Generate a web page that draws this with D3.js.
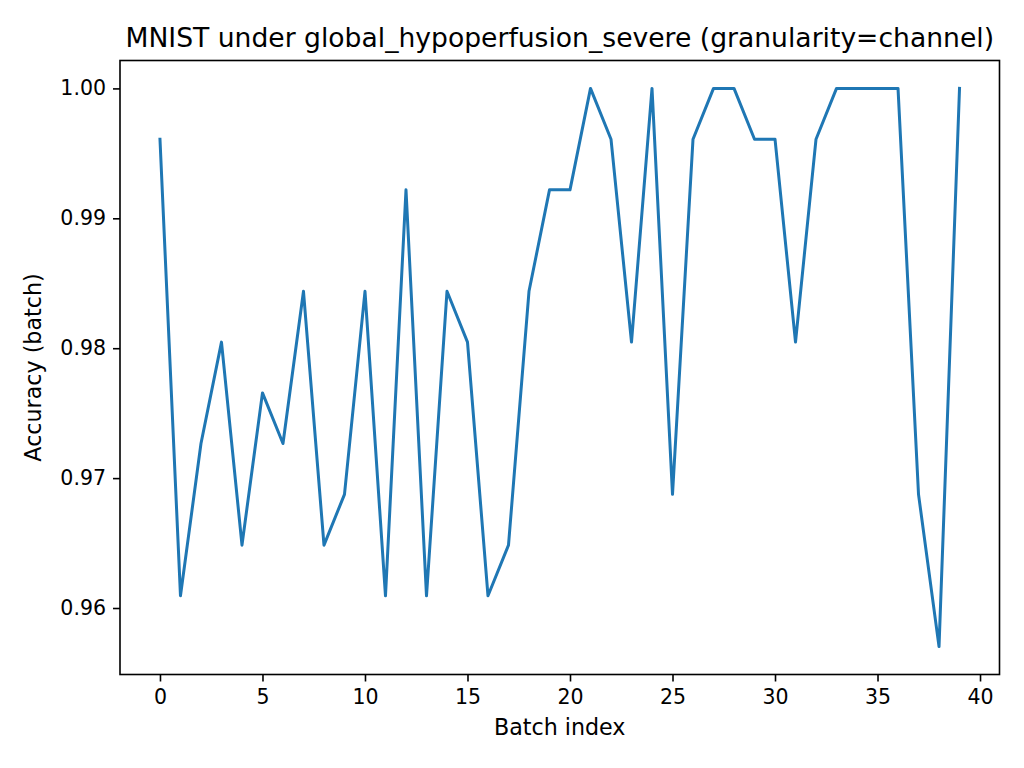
<!DOCTYPE html>
<html>
<head>
<meta charset="utf-8">
<script src="https://cdn.jsdelivr.net/npm/d3@7"></script>
<style>
  html, body { margin: 0; padding: 0; background: #fff; }
  text { font-family: "DejaVu Sans", sans-serif; fill: #000; }
</style>
</head>
<body>
<svg id="chart" width="1024" height="768"></svg>
<script>
const batchIndex = d3.range(40);
const accuracy = [
  0.99609, 0.96094, 0.97266, 0.98047, 0.96484, 0.97656, 0.97266, 0.98438, 0.96484, 0.96875,
  0.98438, 0.96094, 0.99219, 0.96094, 0.98438, 0.98047, 0.96094, 0.96484, 0.98438, 0.99219,
  0.99219, 1.00000, 0.99609, 0.98047, 1.00000, 0.96875, 0.99609, 1.00000, 1.00000, 0.99609,
  0.99609, 0.98047, 0.99609, 1.00000, 1.00000, 1.00000, 1.00000, 0.96875, 0.95703, 1.00000
];
const xTicks = [0, 5, 10, 15, 20, 25, 30, 35, 40];
const yTicks = [0.96, 0.97, 0.98, 0.99, 1.00];
const titleText = "MNIST under global_hypoperfusion_severe (granularity=channel)";
const xLabel = "Batch index";
const yLabel = "Accuracy (batch)";

const svg = d3.select("#chart");
const L = 120, R = 999.5, T = 60.5, B = 674.5;

const xMin = d3.min(batchIndex), xMax = d3.max(batchIndex);
const xPad = (xMax - xMin) * 0.05;
const yMin = d3.min(accuracy), yMax = d3.max(accuracy);
const yPad = (yMax - yMin) * 0.05;

const x = d3.scaleLinear().domain([xMin - xPad, xMax + xPad]).range([L, R]);
const y = d3.scaleLinear().domain([yMin - yPad, yMax + yPad]).range([B, T]);

const tickFs = 20.5, labelFs = 22.2, titleFs = 26.6;

// line
const line = d3.line().x((d, i) => x(batchIndex[i])).y(d => y(d));
svg.append("path")
  .datum(accuracy)
  .attr("d", line)
  .attr("fill", "none")
  .attr("stroke", "#1f77b4")
  .attr("stroke-width", 3)
  .attr("stroke-linejoin", "round")
  .attr("stroke-linecap", "square");

// axes
const xAxis = d3.axisBottom(x).tickValues(xTicks).tickFormat(d3.format("d")).tickSize(7).tickPadding(7);
const yAxis = d3.axisLeft(y).tickValues(yTicks).tickFormat(d3.format(".2f")).tickSize(7).tickPadding(7);

const gx = svg.append("g").attr("transform", `translate(0,${B})`).call(xAxis);
const gy = svg.append("g").attr("transform", `translate(${L},0)`).call(yAxis);
[gx, gy].forEach(g => {
  g.select(".domain").remove();
  g.selectAll(".tick line").attr("stroke", "#000").attr("stroke-width", 1.6);
  g.selectAll(".tick text").attr("font-family", "DejaVu Sans").attr("font-size", tickFs).attr("fill", "#000");
});
gx.selectAll(".tick text").attr("dy", "0.78em");

// frame
svg.append("rect")
  .attr("x", L).attr("y", T)
  .attr("width", R - L).attr("height", B - T)
  .attr("fill", "none").attr("stroke", "#000").attr("stroke-width", 1.6);

// title & labels
svg.append("text")
  .attr("x", (L + R) / 2).attr("y", 46.5)
  .attr("text-anchor", "middle")
  .attr("font-size", titleFs)
  .text(titleText);

svg.append("text")
  .attr("x", (L + R) / 2).attr("y", 735)
  .attr("text-anchor", "middle")
  .attr("font-size", labelFs)
  .text(xLabel);

svg.append("text")
  .attr("transform", `translate(41,${(T + B) / 2}) rotate(-90)`)
  .attr("text-anchor", "middle")
  .attr("font-size", labelFs)
  .text(yLabel);
</script>
</body>
</html>
